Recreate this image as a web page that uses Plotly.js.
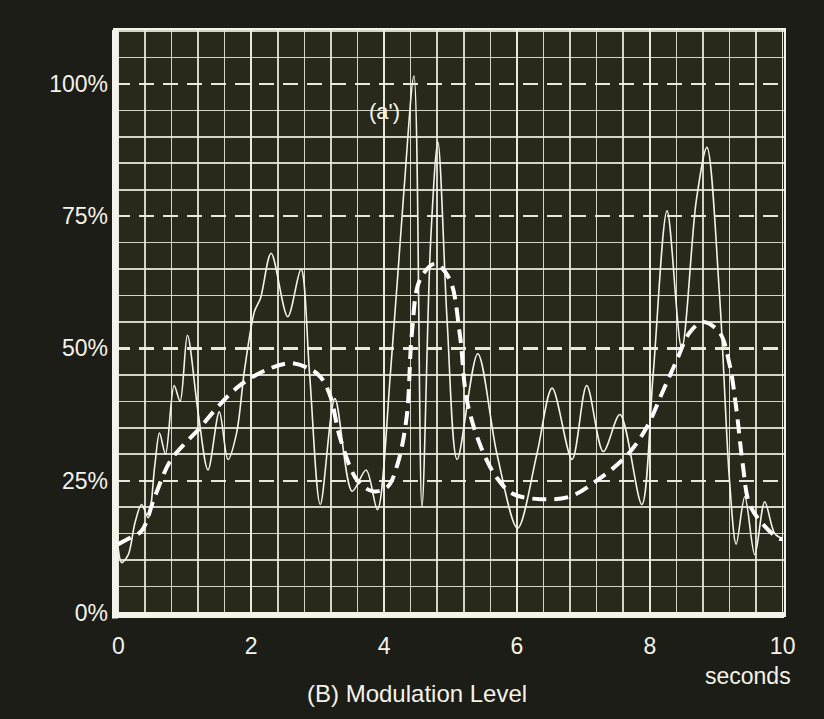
<!DOCTYPE html>
<html>
<head>
<meta charset="utf-8">
<script src="https://cdn.plot.ly/plotly-3.0.1.min.js"></script>
<style>
  html, body { margin: 0; padding: 0; background: #1d1d17; }
  #chart { width: 824px; height: 719px; }
</style>
</head>
<body>
<div id="chart"></div>
<script>
// Solid thin trace (a') : time in seconds, modulation level in %
const solidTime = [0.00, 0.05, 0.15, 0.25, 0.35, 0.45, 0.55, 0.62, 0.71, 0.84, 0.93, 1.04, 1.20, 1.35, 1.52, 1.65, 1.78, 1.90, 2.05, 2.14, 2.30, 2.55, 2.75, 2.88, 3.04, 3.26, 3.52, 3.73, 3.90, 4.10, 4.30, 4.45, 4.57, 4.70, 4.81, 4.95, 5.10, 5.41, 5.70, 6.01, 6.30, 6.53, 6.83, 7.05, 7.30, 7.55, 7.88, 8.05, 8.26, 8.48, 8.70, 8.86, 9.05, 9.20, 9.30, 9.43, 9.58, 9.73, 9.88, 10.00];
const solidLevel = [12, 9.5, 11, 17, 20.5, 18, 28, 34, 30, 43, 40, 52.5, 38, 27, 38, 29, 34, 46, 57, 59.5, 68, 56, 65, 45, 20.5, 40.5, 23, 27, 19.5, 46, 80, 101.5, 20, 70, 89, 55, 29, 49, 30, 16, 30, 42.5, 29, 43, 30.5, 37.5, 20.5, 45, 76, 50, 78, 88, 60, 25, 13, 22, 11, 21, 15, 14];

// Thick dashed envelope trace
const dashTime = [0.00, 0.15, 0.35, 0.55, 0.78, 1.00, 1.23, 1.50, 1.83, 2.24, 2.60, 2.90, 3.05, 3.19, 3.34, 3.60, 3.83, 4.05, 4.20, 4.34, 4.42, 4.54, 4.77, 4.99, 5.14, 5.25, 5.47, 5.70, 5.94, 6.35, 6.80, 7.20, 7.65, 7.95, 8.20, 8.40, 8.60, 8.80, 9.05, 9.20, 9.30, 9.40, 9.50, 9.70, 9.95, 10.00];
const dashLevel = [13, 14, 15.5, 22, 28.7, 32, 35, 39, 43, 46, 47.2, 46, 44.5, 41, 33, 25, 23, 23.8, 28, 37, 53, 63, 66, 63, 52.7, 40, 31, 25.5, 22.5, 21.5, 22, 25, 29.7, 35, 42, 47.6, 53, 55, 53, 47, 38.8, 28, 20.6, 16.8, 14, 14];

const xTickVals = [0, 2, 4, 6, 8, 10];
const xTickText = ['0', '2', '4', '6', '8', '10'];
const yTickVals = [0, 25, 50, 75, 100];
const yTickText = ['0%', '25%', '50%', '75%', '100%'];
// fine (solid) horizontal grid rows, every 5 % except the dashed 25 % rows
const yFineGrid = [5, 10, 15, 20, 30, 35, 40, 45, 55, 60, 65, 70, 80, 85, 90, 95, 105, 110];

const ink = '#f3f3ea';
const gridCol = 'rgba(235,235,222,0.88)';
const fontFam = '"Liberation Sans", Arial, Helvetica, sans-serif';
const yRange = [-0.4, 110.2];

const traces = [
  {
    x: solidTime, y: solidLevel, type: 'scatter', mode: 'lines',
    line: { color: ink, width: 1.6, shape: 'spline', smoothing: 0.9 },
    hoverinfo: 'skip'
  },
  {
    x: dashTime, y: dashLevel, type: 'scatter', mode: 'lines', yaxis: 'y2',
    line: { color: '#ffffff', width: 4, dash: '14px,8px', shape: 'spline', smoothing: 1 },
    hoverinfo: 'skip'
  }
];

const layout = {
  width: 824, height: 719,
  margin: { l: 115, r: 40, t: 30, b: 104 },
  paper_bgcolor: '#1d1d17',
  plot_bgcolor: '#28281b',
  showlegend: false,
  hovermode: false,
  font: { family: fontFam, color: ink, size: 22 },
  xaxis: {
    range: [-0.05, 10.02],
    tickmode: 'array', tickvals: xTickVals, ticktext: xTickText,
    ticks: '', ticklabelstandoff: 9,
    tickfont: { size: 23, color: ink, family: fontFam },
    showgrid: true, gridcolor: gridCol, gridwidth: 1.6,
    minor: { dtick: 0.4, tick0: 0, showgrid: true, gridcolor: gridCol, gridwidth: 1.6, griddash: 'solid', ticks: '' },
    zeroline: false,
    showline: true, linecolor: ink, linewidth: 2, mirror: true
  },
  yaxis: {
    range: yRange,
    tickmode: 'array', tickvals: yFineGrid,
    showticklabels: false, ticks: '',
    showgrid: true, gridcolor: gridCol, gridwidth: 1.6,
    zeroline: false,
    showline: true, linecolor: ink, linewidth: 2, mirror: true
  },
  yaxis2: {
    range: yRange, overlaying: 'y', side: 'left',
    tickmode: 'array', tickvals: yTickVals, ticktext: yTickText,
    ticks: '', ticklabelstandoff: 6,
    tickfont: { size: 23, color: ink, family: fontFam },
    showgrid: true, gridcolor: 'rgba(242,242,230,0.95)', gridwidth: 2.2, griddash: '15px,9px',
    zeroline: false, showline: false
  },
  shapes: [
    { type: 'line', xref: 'paper', yref: 'paper', x0: 0, x1: 0, y0: -0.006, y1: 1.0,
      line: { color: ink, width: 6 } },
    { type: 'line', xref: 'paper', yref: 'paper', x0: -0.004, x1: 1.0, y0: 0, y1: 0,
      line: { color: ink, width: 6 } }
  ],
  annotations: [
    { text: "(a')", xref: 'x', yref: 'y', x: 4.0, y: 94.7, showarrow: false,
      xanchor: 'center', yanchor: 'middle', font: { size: 22, color: ink, family: fontFam } },
    { text: 'seconds', xref: 'paper', yref: 'paper', x: 0.946, y: -0.104, showarrow: false,
      xanchor: 'center', yanchor: 'middle', font: { size: 23, color: ink, family: fontFam } },
    { text: '(B) Modulation Level', xref: 'paper', yref: 'paper', x: 0.451, y: -0.135, showarrow: false,
      xanchor: 'center', yanchor: 'middle', font: { size: 24, color: ink, family: fontFam } }
  ]
};

Plotly.newPlot('chart', traces, layout, { displayModeBar: false, staticPlot: true });
</script>
</body>
</html>
